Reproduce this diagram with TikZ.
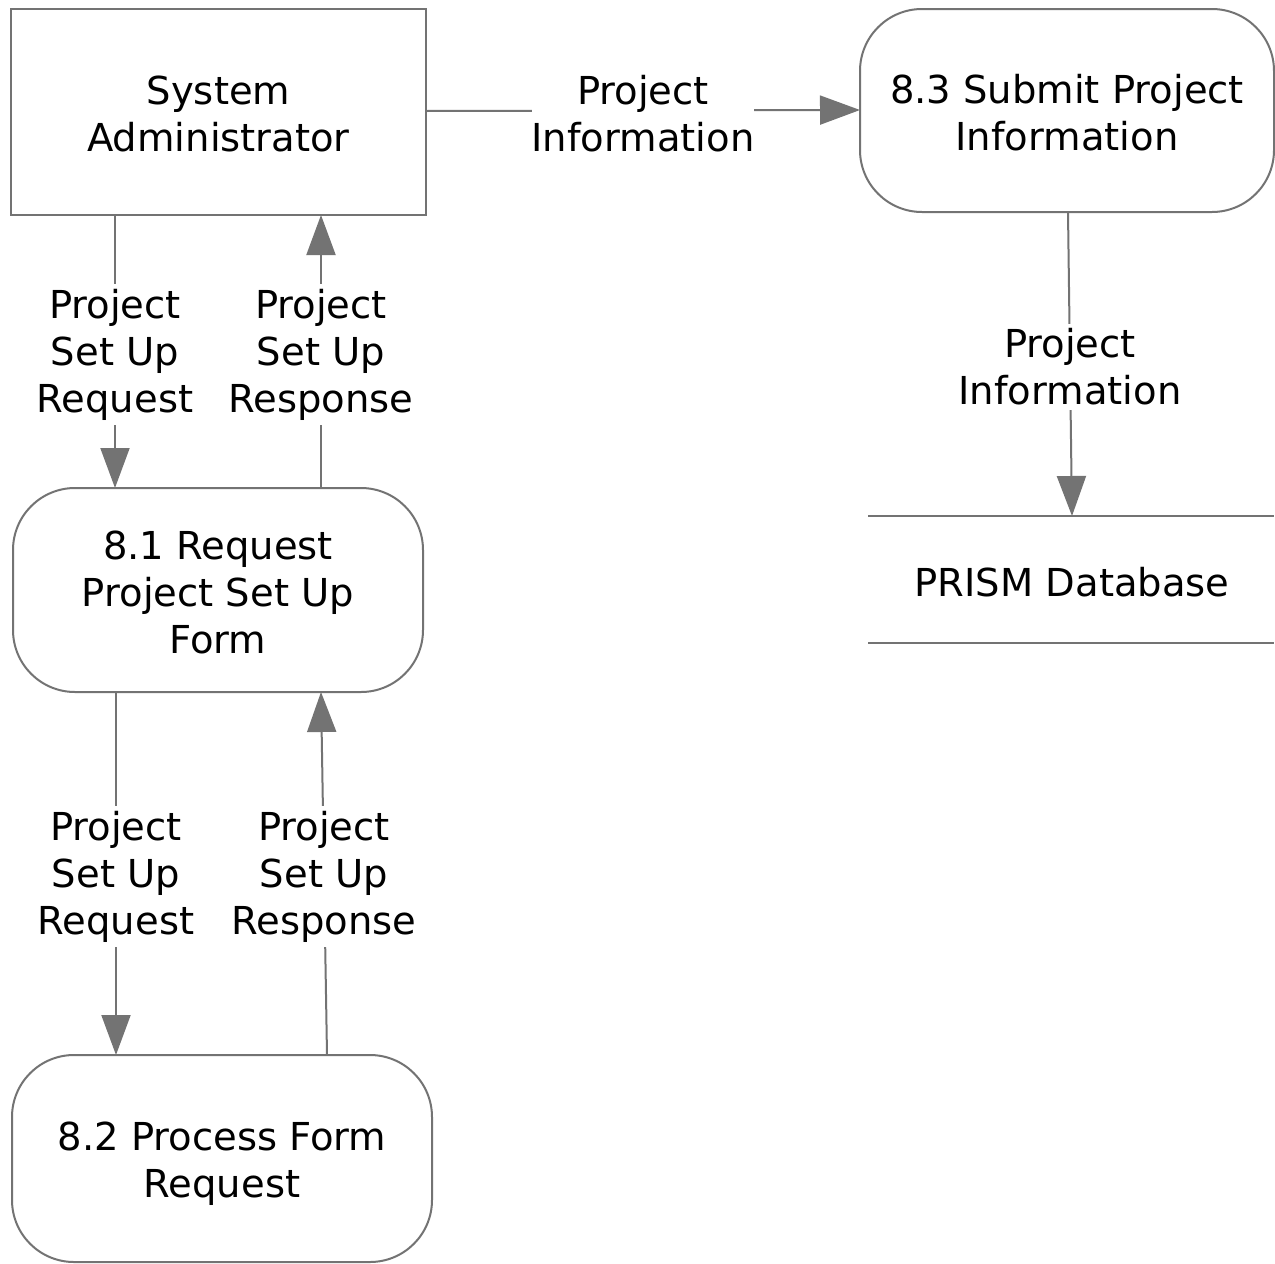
\documentclass[tikz,border=0pt]{standalone}
\usepackage{fontspec}
\setmainfont{DejaVu Sans}
\usetikzlibrary{arrows.meta}
\definecolor{ln}{HTML}{737373}
\begin{document}
\begin{tikzpicture}[x=1pt,y=-1pt,
  every node/.style={font=\fontsize{38.5}{47}\selectfont},
  proc/.style={draw=ln,line width=2pt,rounded corners=62pt,inner sep=0pt},
  ent/.style={draw=ln,line width=2pt,inner sep=0pt},
  txt/.style={align=center,inner sep=0pt,yshift=-2pt},
  flow/.style={draw=ln,line width=2pt,-{Triangle[length=40pt,width=29pt]}},
  lbl/.style={fill=white,align=center,inner xsep=0pt,inner ysep=5pt,yshift=-3pt}]
\useasboundingbox (0,0) rectangle (1275,1264);
\node[ent,minimum width=415pt,minimum height=206pt] (sa) at (218.5,112) {};
\node[txt] (sat) at (sa.center) {System\\Administrator};
\node[proc,minimum width=414pt,minimum height=203pt] (p83) at (1067,110.5) {};
\node[txt] (p83t) at (p83.center) {8.3 Submit Project\\Information};
\node[proc,minimum width=410pt,minimum height=204pt] (p81) at (218,590) {};
\node[txt] (p81t) at (p81.center) {8.1 Request\\Project Set Up\\Form};
\node[proc,minimum width=420pt,minimum height=207pt] (p82) at (222,1158.5) {};
\node[txt,yshift=-3pt] (p82t) at (p82.center) {8.2 Process Form\\Request};
\coordinate (dbtl) at (868,516);
\coordinate (dbtr) at (1274,516);
\coordinate (dbbl) at (868,643);
\coordinate (dbbr) at (1274,643);
\draw[ln,line width=2pt] (dbtl) -- (dbtr) (dbbl) -- (dbbr);
\node[txt] (db) at (1072,580) {PRISM Database};
\coordinate (dbtop) at (1072,516);
% flows
\draw[flow] (426,111) -- node[lbl,inner ysep=2pt]{Project\\Information} (860,110);
\draw[flow] (115,215) -- node[lbl]{Project\\Set Up\\Request} (115,488);
\draw[flow] (321,488) -- node[lbl]{Project\\Set Up\\Response} (321,215);
\draw[flow] (116,692) -- node[lbl]{Project\\Set Up\\Request} (116,1055);
\draw[flow] (327,1055) -- node[lbl]{Project\\Set Up\\Response} (321,692);
\draw[flow] (1068,212) -- node[lbl]{Project\\Information} (dbtop);
\end{tikzpicture}
\end{document}
